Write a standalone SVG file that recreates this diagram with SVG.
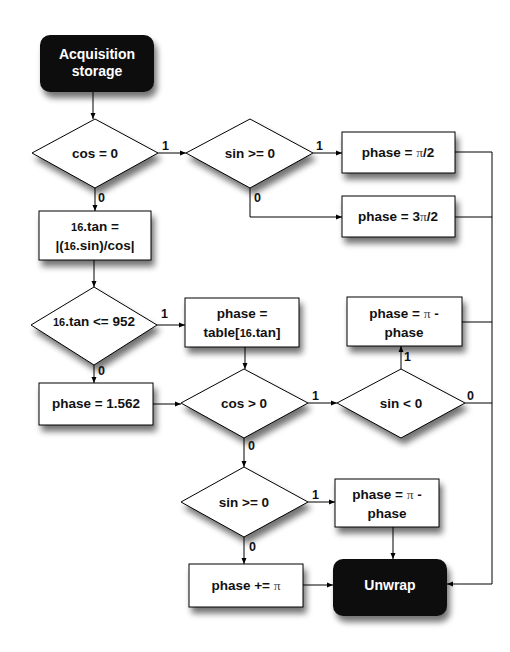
<svg xmlns="http://www.w3.org/2000/svg" width="510" height="652" viewBox="0 0 510 652">
<style>
.box{fill:#fff;stroke:#000;stroke-width:1}
.term{fill:#111;stroke:none}
.t{font-family:"Liberation Sans",Arial,sans-serif;font-weight:bold;font-size:13.5px;fill:#111;text-anchor:middle}
.w{fill:#fff;font-size:14px}
.sm{font-size:11px}
.pi{font-family:"Liberation Serif","Times New Roman",serif;font-weight:normal;fill:#444}
.lbl{font-family:"Liberation Sans",Arial,sans-serif;font-weight:bold;font-size:12.5px;fill:#111}
.c{fill:none;stroke:#000;stroke-width:1}
</style>
<defs>
<filter id="sh" x="-20%" y="-20%" width="150%" height="160%">
<feGaussianBlur in="SourceAlpha" stdDeviation="3"/>
<feOffset dx="3" dy="6" result="b"/>
<feComponentTransfer><feFuncA type="linear" slope="0.55"/></feComponentTransfer>
<feMerge><feMergeNode/><feMergeNode in="SourceGraphic"/></feMerge>
</filter>
<marker id="ar" markerWidth="6" markerHeight="6" refX="6" refY="3" orient="auto" markerUnits="userSpaceOnUse">
<path d="M0,0.5 L6,3 L0,5.5 Z" fill="#000"/>
</marker>
</defs>
<rect width="510" height="652" fill="#fff"/>

<g id="acq"><rect class="term" x="40" y="35" width="114" height="57" rx="10" filter="url(#sh)"/>
<text class="t w" x="97" y="59">Acquisition</text><text class="t w" x="97" y="76">storage</text></g>

<g id="d_cos0"><polygon class="box" points="95,119 158,153 95,188 32,153" filter="url(#sh)"/>
<text class="t" x="95" y="158">cos = 0</text></g>

<g id="d_singe0a"><polygon class="box" points="250,119 313,153 250,188 186,153" filter="url(#sh)"/>
<text class="t" x="250" y="158">sin &gt;= 0</text></g>

<g id="b_pi2"><rect class="box" x="342" y="132" width="113" height="41" filter="url(#sh)"/>
<text class="t" x="398" y="157">phase = <tspan class="pi">π</tspan>/2</text></g>

<g id="b_3pi2"><rect class="box" x="342" y="196" width="113" height="41" filter="url(#sh)"/>
<text class="t" x="398" y="221">phase = 3<tspan class="pi">π</tspan>/2</text></g>

<g id="b_tan"><rect class="box" x="39" y="211" width="112" height="49" filter="url(#sh)"/>
<text class="t" x="95" y="231"><tspan class="sm">16</tspan>.tan =</text><text class="t" x="95" y="250">|(<tspan class="sm">16</tspan>.sin)/cos|</text></g>

<g id="d_tan952"><polygon class="box" points="94,287 157,325 94,365 31,325" filter="url(#sh)"/>
<text class="t" x="94" y="326"><tspan class="sm">16</tspan>.tan &lt;= 952</text></g>

<g id="b_table"><rect class="box" x="185" y="298" width="114" height="49" filter="url(#sh)"/>
<text class="t" x="242" y="318">phase =</text><text class="t" x="242" y="337">table[<tspan class="sm">16</tspan>.tan]</text></g>

<g id="b_pimp1"><rect class="box" x="347" y="297" width="115" height="49" filter="url(#sh)"/>
<text class="t" x="404" y="318">phase = <tspan class="pi">π</tspan> -</text><text class="t" x="404" y="337">phase</text></g>

<g id="b_1562"><rect class="box" x="39" y="383" width="114" height="42" filter="url(#sh)"/>
<text class="t" x="96" y="408">phase = 1.562</text></g>

<g id="d_cosgt0"><polygon class="box" points="244,369 308,403 244,438 181,403" filter="url(#sh)"/>
<text class="t" x="244" y="408">cos &gt; 0</text></g>

<g id="d_sinlt0"><polygon class="box" points="401,369 465,403 401,438 337,403" filter="url(#sh)"/>
<text class="t" x="401" y="408">sin &lt; 0</text></g>

<g id="d_singe0b"><polygon class="box" points="244,467 308,502 244,537 181,502" filter="url(#sh)"/>
<text class="t" x="244" y="507">sin &gt;= 0</text></g>

<g id="b_pimp2"><rect class="box" x="335" y="479" width="104" height="48" filter="url(#sh)"/>
<text class="t" x="387" y="499">phase = <tspan class="pi">π</tspan> -</text><text class="t" x="387" y="518">phase</text></g>

<g id="b_pluspi"><rect class="box" x="189" y="564" width="114" height="43" filter="url(#sh)"/>
<text class="t" x="246" y="590">phase += <tspan class="pi">π</tspan></text></g>

<g id="unwrap"><rect class="term" x="333" y="559" width="114" height="57" rx="10" filter="url(#sh)"/>
<text class="t w" x="390" y="590">Unwrap</text></g>

<g id="connectors">
<path class="c" d="M93,92 V119" marker-end="url(#ar)"/>
<path class="c" d="M158,153 H186" marker-end="url(#ar)"/>
<path class="c" d="M313,153 H342" marker-end="url(#ar)"/>
<path class="c" d="M250,188 V217 H342" marker-end="url(#ar)"/>
<path class="c" d="M95,188 V211" marker-end="url(#ar)"/>
<path class="c" d="M94,260 V287" marker-end="url(#ar)"/>
<path class="c" d="M157,325 H185" marker-end="url(#ar)"/>
<path class="c" d="M94,365 V383" marker-end="url(#ar)"/>
<path class="c" d="M245,347 V369" marker-end="url(#ar)"/>
<path class="c" d="M153,404 H181" marker-end="url(#ar)"/>
<path class="c" d="M308,403 H337" marker-end="url(#ar)"/>
<path class="c" d="M401,369 V346" marker-end="url(#ar)"/>
<path class="c" d="M455,152 H492"/>
<path class="c" d="M455,217 H492"/>
<path class="c" d="M462,322 H492"/>
<path class="c" d="M465,403 H492"/>
<path class="c" d="M492,152 V584 H447" marker-end="url(#ar)"/>
<path class="c" d="M244,438 V467" marker-end="url(#ar)"/>
<path class="c" d="M308,502 H335" marker-end="url(#ar)"/>
<path class="c" d="M393,527 V559" marker-end="url(#ar)"/>
<path class="c" d="M244,537 V564" marker-end="url(#ar)"/>
<path class="c" d="M303,585 H333" marker-end="url(#ar)"/>
<text class="lbl" x="162" y="150">1</text>
<text class="lbl" x="316" y="150">1</text>
<text class="lbl" x="254" y="202">0</text>
<text class="lbl" x="98" y="202">0</text>
<text class="lbl" x="161" y="318">1</text>
<text class="lbl" x="98" y="375">0</text>
<text class="lbl" x="312" y="400">1</text>
<text class="lbl" x="404" y="361">1</text>
<text class="lbl" x="467" y="400">0</text>
<text class="lbl" x="248" y="450">0</text>
<text class="lbl" x="312" y="499">1</text>
<text class="lbl" x="249" y="551">0</text>
</g>
</svg>
